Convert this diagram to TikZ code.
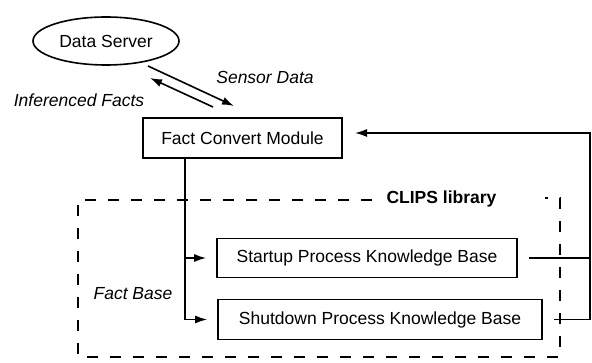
\documentclass[tikz,border=0pt]{standalone}
\usepackage{fontspec}
\setmainfont{Liberation Sans}
\usetikzlibrary{shapes.geometric,arrows.meta}
\begin{document}
\begin{tikzpicture}[x=1pt,y=-1pt,
  every node/.style={font=\fontsize{17.5}{20}\selectfont},
  box/.style={draw,line width=1.6pt,inner sep=0pt},
  solid line/.style={line width=1.6pt},
  arr/.style={line width=1.6pt,-{Latex[length=12pt,width=8pt]}},
  dashbox/.style={line width=2.8pt,dash pattern=on 11pt off 12pt},
  lbl/.style={font=\fontsize{17.5}{20}\selectfont\itshape}]
\useasboundingbox (0,0) rectangle (592,363);
% dashed library frame
\draw[dashbox] (372,200) -- (78,200) -- (78,357) -- (560,357) -- (560,198) -- (545,198);
\node[font=\fontsize{17.5}{20}\selectfont\bfseries] (clips) at (441.5,199) {CLIPS library};
% nodes
\node[draw,ellipse,line width=1.6pt,minimum width=146pt,minimum height=48pt] (ds) at (106,41) {Data Server};
\node[box,minimum width=199pt,minimum height=40pt] (fcm) at (242.5,138) {Fact Convert Module};
\node[box,minimum width=300pt,minimum height=39pt] (su) at (367,258) {Startup Process Knowledge Base};
\node[box,minimum width=324pt,minimum height=40pt] (sd) at (380,319.5) {Shutdown Process Knowledge Base};
% labels
\node[lbl] (sens) at (265,77) {Sensor Data};
\node[lbl] (inf) at (79,100) {Inferenced Facts};
\node[lbl] (fb) at (133,294) {Fact Base};
% arrows between server and module
\coordinate (s1) at (148,66);
\coordinate (s2) at (234,106);
\coordinate (i1) at (213,107);
\coordinate (i2) at (150,78);
\draw[arr] (s1) -- (s2);
\draw[arr] (i1) -- (i2);
% trunk to knowledge bases
\coordinate (trunk) at (185,158);
\draw[arr] (trunk) |- ([xshift=-10pt]su.west);
\draw[arr] (trunk) |- ([xshift=-10pt]sd.west);
% feedback
\coordinate (rc) at (590,133);
\coordinate (tip) at (355,133);
\draw[solid line] ([xshift=11pt]sd.east) -| (rc);
\draw[arr] ([xshift=11pt]su.east) -| (rc) -- (tip);
\end{tikzpicture}
\end{document}
